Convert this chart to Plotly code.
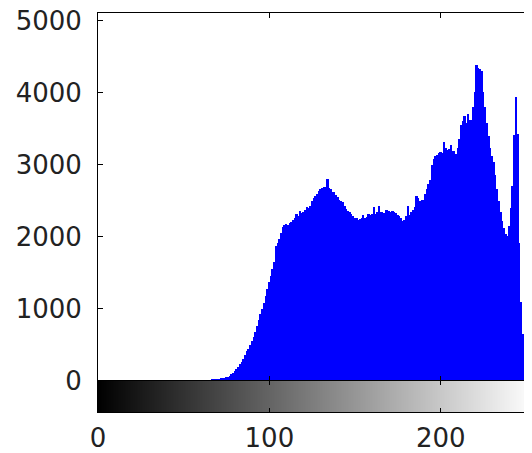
import plotly.graph_objects as go

# Gray levels (histogram bins) and pixel counts
gray_levels = list(range(256))
pixel_counts = [
    0, 0, 0, 0, 0, 0, 0, 0, 0, 0,
    0, 0, 0, 0, 0, 0, 0, 0, 0, 0,
    0, 0, 0, 0, 0, 0, 0, 0, 0, 0,
    0, 0, 0, 0, 0, 0, 0, 0, 0, 0,
    0, 0, 0, 0, 0, 0, 0, 0, 0, 0,
    0, 0, 0, 0, 0, 0, 0, 0, 0, 0,
    0, 0, 0, 0, 0, 0,
    10, 20, 20, 25, 25, 30, 35, 40, 45, 55,
    60, 75, 95, 115, 140, 170, 200, 230, 265, 300,
    360, 410, 450, 500, 560, 610, 680, 760, 850, 930,
    1000, 1090, 1180, 1280, 1370, 1460, 1560, 1650, 1870, 1910,
    1970, 2050, 2140, 2160, 2180, 2170, 2200, 2210, 2230, 2260,
    2320, 2290, 2360, 2330, 2340, 2380, 2410, 2400, 2430, 2500,
    2540, 2570, 2600, 2640, 2660, 2680, 2700, 2690, 2810, 2680,
    2660, 2630, 2620, 2580, 2560, 2520, 2500, 2480, 2430, 2390,
    2360, 2340, 2320, 2290, 2270, 2260, 2240, 2250, 2270, 2310,
    2270, 2280, 2320, 2300, 2320, 2410, 2320, 2340, 2430, 2350,
    2340, 2330, 2380, 2370, 2360, 2350, 2360, 2340, 2330, 2310,
    2290, 2260, 2220, 2240, 2290, 2430, 2300, 2340, 2380, 2420,
    2570, 2540, 2500, 2510, 2520, 2600, 2670, 2730, 2790, 3000,
    3080, 3120, 3140, 3170, 3180, 3160, 3320, 3230, 3210, 3220,
    3280, 3200, 3190, 3150, 3230, 3360, 3560, 3610, 3680, 3580,
    3710, 3620, 3630, 3800, 4020, 4390, 4340, 4330, 4310, 4020,
    3800, 3580, 3400, 3230, 3130, 3040, 2860, 2660, 2500, 2340,
    2220, 2130, 2040, 2010, 2150, 2400, 2710, 3420, 3950, 3430,
    1920, 1100, 650, 280, 50,
    0, 0, 0, 0, 0,
]
y_ticks = [0, 1000, 2000, 3000, 4000, 5000]
x_ticks = [0, 100, 200]

FONT = "DejaVu Sans"
fig = go.Figure()

fig.add_trace(go.Bar(
    x=gray_levels, y=pixel_counts, width=1,
    marker=dict(color="#0000FF", line=dict(width=0)),
    xaxis="x", yaxis="y", showlegend=False,
))

fig.add_trace(go.Heatmap(
    z=[gray_levels], x=gray_levels, y=[0.5],
    colorscale=[[0, "black"], [1, "white"]], showscale=False,
    xaxis="x2", yaxis="y2", hoverinfo="skip",
))

XR = [0, 253.25]
split = 31 / 399.0

# the page body adds an 8px offset, so the figure is 8px smaller
fig.update_layout(
    width=524, height=445,
    margin=dict(l=90, r=0, t=5, b=41, autoexpand=False),
    paper_bgcolor="white", plot_bgcolor="white",
    bargap=0,
    font=dict(family=FONT, size=26, color="#222222"),
    xaxis=dict(
        domain=[0, 1], range=XR, anchor="y", automargin=False,
        tickvals=x_ticks, showticklabels=False,
        ticks="inside", ticklen=5, tickcolor="black",
        showline=True, linecolor="black", linewidth=1, mirror="ticks",
        showgrid=False, zeroline=False,
    ),
    yaxis=dict(
        domain=[split, 1], range=[0, 5110], anchor="x", automargin=False,
        tickvals=y_ticks, ticks="inside", ticklen=5, tickcolor="black",
        showline=True, linecolor="black", linewidth=1, mirror="ticks",
        showgrid=False, zeroline=False, ticklabelstandoff=10,
        ticklabeloverflow="allow",
    ),
    xaxis2=dict(
        domain=[0, 1], range=XR, anchor="y2", automargin=False,
        tickvals=x_ticks, ticks="inside", ticklen=4, tickcolor="black",
        showline=True, linecolor="black", linewidth=1, mirror="ticks",
        showgrid=False, zeroline=False, ticklabelstandoff=3,
        ticklabeloverflow="allow",
    ),
    yaxis2=dict(
        domain=[0, split], range=[0, 1], anchor="x2", automargin=False,
        showticklabels=False, ticks="",
        showline=True, linecolor="black", linewidth=1, mirror=True,
        showgrid=False, zeroline=False,
    ),
)

fig.write_html("out.html")
